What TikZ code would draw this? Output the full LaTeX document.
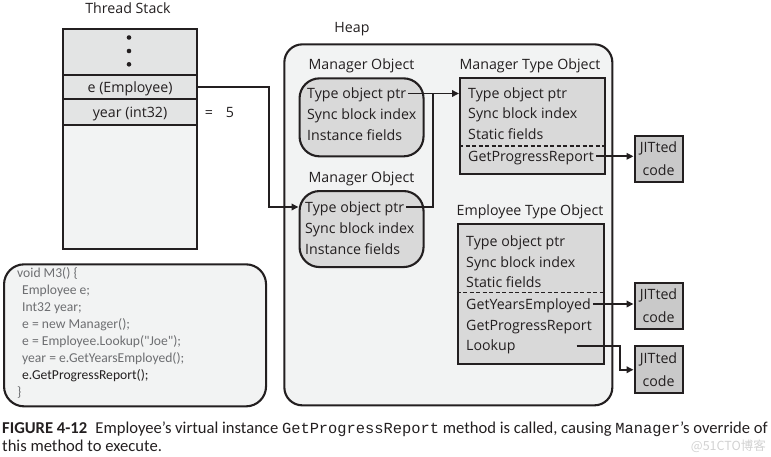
\documentclass[tikz,border=0pt]{standalone}
\usepackage{fontspec}
\setmainfont{Open Sans}
\newfontfamily\capfont{Carlito}
\newfontfamily\monofont{Liberation Mono}
\newfontfamily\cjkfont{Noto Sans CJK SC}
\usetikzlibrary{arrows.meta,calc}
\definecolor{ink}{HTML}{231F20}
\definecolor{stackfill}{HTML}{E3E4E4}
\definecolor{paper}{HTML}{F2F3F3}
\definecolor{objfill}{HTML}{D9D9D9}
\definecolor{jitfill}{HTML}{C9C9C9}
\definecolor{codegray}{HTML}{6D6E71}
\definecolor{wm}{HTML}{D2D2D2}
\tikzset{
  box/.style={draw=ink, line width=2.1pt, inner sep=0pt, anchor=north west},
  txt/.style={inner sep=0pt, anchor=west, text height=12pt, text depth=1.5pt},
  lbl/.style={inner sep=0pt, text height=12pt, text depth=1.5pt},
  conn/.style={draw=ink, line width=1.8pt, -{Triangle[length=7pt,width=6.5pt]}},
  plain/.style={draw=ink, line width=1.8pt},
  dashline/.style={draw=ink, line width=1.4pt, dash pattern=on 4pt off 2.5pt},
  codeline/.style={inner sep=0pt, anchor=west, text height=10pt, text depth=2pt, font=\capfont\fontsize{13.6}{15}\selectfont, text=codegray},
  jit/.style={box, fill=jitfill, minimum width=48pt, align=center, font=\fontsize{14.2}{23}\selectfont},
}
\begin{document}
\begin{tikzpicture}[x=1pt, y=-1pt, font=\fontsize{14.2}{17}\selectfont, every node/.append style={text=ink}]
\useasboundingbox (0,0) rectangle (771,456);

% Thread stack
\node[lbl] (tslbl) at (128,8) {Thread Stack};
\node[box, fill=stackfill, minimum width=134pt, minimum height=46pt] (dotsrow) at (62,28) {};
\node[box, fill=stackfill, minimum width=134pt, minimum height=24pt] (erow) at (62,74) {};
\node[box, fill=stackfill, minimum width=134pt, minimum height=26pt] (yrow) at (62,98) {};
\node[box, fill=paper, minimum width=134pt, minimum height=124pt] (lowrow) at (62,124) {};
\fill[ink] (129,37.5) circle (2.3pt) (129,51) circle (2.3pt) (129,64.3) circle (2.3pt);
\node[lbl] (etxt) at (erow.center) {e (Employee)};
\node[lbl] (ytxt) at (yrow.center) {year (int32)};
\node[lbl] (eq) at (209,112) {=};
\node[lbl] (five) at (230,112) {5};

% Heap
\node[lbl] (heaplbl) at (352,27) {Heap};
\node[box, fill=paper, rounded corners=18pt, minimum width=328pt, minimum height=361pt] (heap) at (283.3,43.3) {};

% Manager objects
\node[lbl] (m1lbl) at (361.5,64) {Manager Object};
\node[box, fill=objfill, rounded corners=20pt, minimum width=124pt, minimum height=78pt] (m1) at (298.5,77.3) {};
\node[txt] (m1p1) at (307,93.5) {Type object ptr};
\node[txt] (m1p2) at (307,114.5) {Sync block index};
\node[txt] (m1p3) at (307,135.5) {Instance fields};

\node[lbl] (m2lbl) at (361.5,177.5) {Manager Object};
\node[box, fill=objfill, rounded corners=20pt, minimum width=124pt, minimum height=76pt] (m2) at (298.5,190) {};
\node[txt] (m2p1) at (305,207) {Type object ptr};
\node[txt] (m2p2) at (305,228) {Sync block index};
\node[txt] (m2p3) at (305,249) {Instance fields};

% Manager type object
\node[lbl] (mtlbl) at (530,64) {Manager Type Object};
\node[box, fill=objfill, minimum width=145pt, minimum height=96pt] (mt) at (459,77.3) {};
\node[txt] (mtp1) at (468,93) {Type object ptr};
\node[txt] (mtp2) at (468,113.5) {Sync block index};
\node[txt] (mtp3) at (468,134.3) {Static fields};
\draw[dashline] (459,145.8) -- (604,145.8);
\node[txt] (mtgpr) at (468,156.3) {GetProgressReport};

% Employee type object
\node[lbl] (etlbl) at (530,210) {Employee Type Object};
\node[box, fill=objfill, minimum width=146pt, minimum height=140pt] (et) at (456.5,222.7) {};
\node[txt] (etp1) at (466,241.7) {Type object ptr};
\node[txt] (etp2) at (466,262.3) {Sync block index};
\node[txt] (etp3) at (466,282.7) {Static fields};
\draw[dashline] (456.5,292.7) -- (602.5,292.7);
\node[txt] (etgye) at (466,304) {GetYearsEmployed};
\node[txt] (etgpr) at (466,325) {GetProgressReport};
\node[txt] (etlk) at (466,345.7) {Lookup};

% JITted code boxes
\node[jit, minimum height=46.5pt] (jit1) at (633.5,134.5) {JITted\\code};
\node[jit, minimum height=46pt] (jit2) at (633.5,281.7) {JITted\\code};
\node[jit, minimum height=47pt] (jit3) at (633.5,345.2) {JITted\\code};

% Code box
\node[box, fill=paper, rounded corners=20pt, minimum width=262pt, minimum height=142pt] (code) at (3,263.3) {};
\node[codeline] (c1) at (17,273) {void M3() \{};
\node[codeline] (c2) at (22,290) {Employee e;};
\node[codeline] (c3) at (22,307) {Int32 year;};
\node[codeline] (c4) at (22,324) {e = new Manager();};
\node[codeline] (c5) at (22,341) {e = Employee.Lookup("Joe");};
\node[codeline] (c6) at (22,358) {year = e.GetYearsEmployed();};
\node[codeline, text=ink] (c7) at (22,375) {e.GetProgressReport();};
\node[codeline] (c8) at (17,392) {\}};

% Connectors
\coordinate (jn) at (432.7,93.5);
\draw[conn] (erow.east) -- ++(70.7,0) |- (m2.west |- m2p1);
\draw[conn] ($(m1p1.east)+(2,0)$) -- (mt.west |- m1p1);
\draw[plain] ($(m2p1.east)+(2,0)$) -| (jn);
\draw[conn] ($(mtgpr.east)+(2,0)$) -- (jit1.west |- mtgpr);
\draw[conn] ($(etgye.east)+(2,0)$) -- (jit2.west |- etgye);
\coordinate (lkstart) at (576.7,345.7);
\draw[conn] (lkstart) -- ++(43.5,0) |- (jit3.west);

% Watermark
\node[anchor=base east, inner sep=0pt, text=wm, font=\cjkfont\fontsize{12.5}{15}\selectfont] (wmk) at (766,450) {@51CTO博客};

% Caption
\node[anchor=base west, inner sep=0pt, font=\capfont\fontsize{16.6}{18}\selectfont] (cap1) at (2,433)
  {\textbf{FIGURE 4-12}\hspace{0.5em}Employee’s virtual instance {\monofont\fontsize{15.4}{18}\selectfont GetProgressReport} method is called, causing {\monofont\fontsize{15.4}{18}\selectfont Manager}’s override of};
\node[anchor=base west, inner sep=0pt, font=\capfont\fontsize{16.6}{18}\selectfont] (cap2) at (2,451) {this method to execute.};
\end{tikzpicture}
\end{document}
